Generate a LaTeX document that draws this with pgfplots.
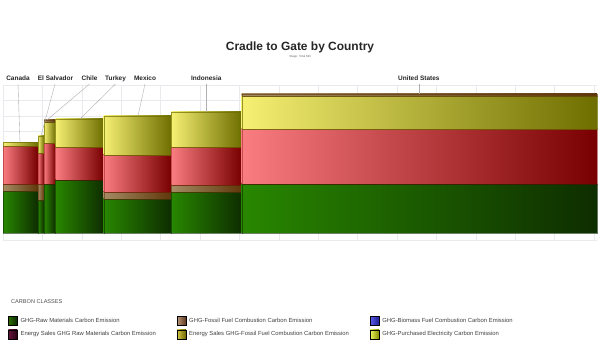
\documentclass[border=0pt]{standalone}
\usepackage{pgfplots}
\pgfplotsset{compat=1.18}
\usepackage{fontspec}
\setmainfont{Liberation Sans}
\definecolor{gL}{RGB}{40,135,0}
\definecolor{gR}{RGB}{14,45,0}
\definecolor{rL}{RGB}{250,125,130}
\definecolor{rR}{RGB}{120,0,0}
\definecolor{yL}{RGB}{246,240,115}
\definecolor{yR}{RGB}{110,110,0}
\definecolor{bL}{RGB}{165,140,100}
\definecolor{bR}{RGB}{95,55,10}
\definecolor{gridc}{RGB}{232,234,238}
\definecolor{leadc}{RGB}{175,175,175}
\tikzset{
  gr/.style={left color=gL, right color=gR, draw=gR, draw opacity=0.6, line width=0.3bp},
  rd/.style={left color=rL, right color=rR, draw=rR, draw opacity=0.4, line width=0.3bp},
  yl/.style={left color=yL, right color=yR, draw=yR, draw opacity=0.7, line width=0.3bp},
  br/.style={left color=bL, right color=bR, draw=bR, draw opacity=0.6, line width=0.3bp},
}
\newcommand{\seg}[5]{\addplot[#5, forget plot] coordinates {(#1,#3) (#2,#3) (#2,#4) (#1,#4)} -- cycle;}
\begin{document}
\begin{tikzpicture}
\path[use as bounding box] (0,0) rectangle (600bp,363bp);
\begin{axis}[
  at={(3bp,123bp)}, anchor=south west,
  scale only axis, width=594bp, height=155bp,
  xmin=0, xmax=594, ymin=-7, ymax=148,
  xtick={0,39.4,...,594}, ytick={-7,8.5,...,148},
  xticklabels={}, yticklabels={},
  major tick length=0pt,
  grid=major, major grid style={draw=gridc, line width=0.5bp},
  axis line style={draw=none},
  clip=false,
  legend columns=3,
  legend cell align=left,
  legend style={at={(0.0084,-0.490)}, anchor=north west, draw=none, fill=none,
    inner sep=0pt, font=\fontsize{5.9}{7}\selectfont, text=black!75,
    row sep=4bp,
    nodes={inner sep=0pt},
    /tikz/every odd column/.append style={column sep=3bp},
    /tikz/every even column/.append style={column sep=21bp}},
  legend image code/.code={\draw[#1] (0bp,-4.5bp) rectangle (9bp,4.5bp);},
]
% legend entries (classes)
\addlegendimage{left color={rgb,255:red,45;green,110;blue,0}, right color={rgb,255:red,10;green,40;blue,0}, draw=none}
\addlegendentry{GHG-Raw Materials Carbon Emission}
\addlegendimage{left color={rgb,255:red,185;green,150;blue,120}, right color={rgb,255:red,95;green,55;blue,30}, draw=none}
\addlegendentry{GHG-Fossil Fuel Combustion Carbon Emission}
\addlegendimage{left color={rgb,255:red,90;green,90;blue,230}, right color={rgb,255:red,30;green,30;blue,150}, draw=none}
\addlegendentry{GHG-Biomass Fuel Combustion Carbon Emission}
\addlegendimage{left color={rgb,255:red,100;green,20;blue,60}, right color={rgb,255:red,40;green,0;blue,20}, draw=none}
\addlegendentry{Energy Sales GHG Raw Materials Carbon Emission}
\addlegendimage{left color={rgb,255:red,210;green,200;blue,70}, right color={rgb,255:red,110;green,100;blue,0}, draw=none}
\addlegendentry{Energy Sales GHG-Fossil Fuel Combustion Carbon Emission}
\addlegendimage{left color={rgb,255:red,235;green,245;blue,90}, right color={rgb,255:red,130;green,140;blue,0}, draw=none}
\addlegendentry{GHG-Purchased Electricity Carbon Emission}
% Canada
\seg{0}{35}{0}{42}{gr}
\seg{0}{35}{42}{49}{br}
\seg{0}{35}{49}{87}{rd}
\seg{0}{35}{87}{90.5}{yl}
% El Salvador
\seg{35}{41}{0}{33}{gr}
\seg{35}{41}{33}{49}{br}
\seg{35}{41}{49}{80}{rd}
\seg{35}{41}{80}{97}{yl}
% Chile
\seg{41}{52.5}{0}{49}{gr}
\seg{41}{52.5}{49}{90}{rd}
\seg{41}{52.5}{90}{111}{yl}
\seg{41}{52.5}{111}{113}{br}
% Turkey
\seg{52.5}{100.7}{0}{53}{gr}
\seg{52.5}{100.7}{53}{86}{rd}
\seg{52.5}{100.7}{86}{114}{yl}
% Mexico
\seg{100.7}{168.3}{0}{34}{gr}
\seg{100.7}{168.3}{34}{41}{br}
\seg{100.7}{168.3}{41}{78}{rd}
\seg{100.7}{168.3}{78}{117}{yl}
% Indonesia
\seg{168.3}{238.7}{0}{41}{gr}
\seg{168.3}{238.7}{41}{48}{br}
\seg{168.3}{238.7}{48}{86}{rd}
\seg{168.3}{238.7}{86}{121}{yl}
% United States
\seg{238.7}{594}{0}{49}{gr}
\seg{238.7}{594}{49}{104}{rd}
\seg{238.7}{594}{104}{137}{yl}
\seg{238.7}{594}{137}{139}{br}
% leader lines
\draw[leadc, line width=0.4bp] (axis cs:15,149) -- (axis cs:17,90.5);
\draw[leadc, line width=0.4bp] (axis cs:52,149) -- (axis cs:38,97);
\draw[leadc, line width=0.4bp] (axis cs:86.5,149) -- (axis cs:44,113);
\draw[leadc, line width=0.4bp] (axis cs:112.5,149) -- (axis cs:77,114);
\draw[leadc, line width=0.4bp] (axis cs:142,149) -- (axis cs:135,117);
\draw[leadc, line width=0.4bp] (axis cs:203.3,149) -- (axis cs:203.3,121);
\draw[leadc, line width=0.4bp] (axis cs:415.8,149) -- (axis cs:415.8,139);
% country labels
\tikzset{cl/.style={font=\fontsize{6.5}{7}\selectfont\bfseries, text=black!85, anchor=base, inner sep=0pt}}
\node[cl] at (axis cs:15,152.5) {Canada};
\node[cl] at (axis cs:52.5,152.5) {El Salvador};
\node[cl] at (axis cs:86.5,152.5) {Chile};
\node[cl] at (axis cs:112.5,152.5) {Turkey};
\node[cl] at (axis cs:142,152.5) {Mexico};
\node[cl] at (axis cs:203.3,152.5) {Indonesia};
\node[cl] at (axis cs:415.8,152.5) {United States};
% titles
\node[font=\fontsize{12}{14}\selectfont\bfseries, text=black!85, inner sep=0pt] at (axis description cs:0.5,1.245) {Cradle to Gate by Country};
\node[font=\fontsize{3}{3.5}\selectfont, text=black!60, inner sep=0pt] at (axis description cs:0.5,1.181) {Stage: Total Mill};
\node[font=\fontsize{5.6}{7}\selectfont, text=black!70, anchor=west, inner sep=0pt] at (axis description cs:0.0135,-0.40) {CARBON CLASSES};
\end{axis}
\end{tikzpicture}
\end{document}
